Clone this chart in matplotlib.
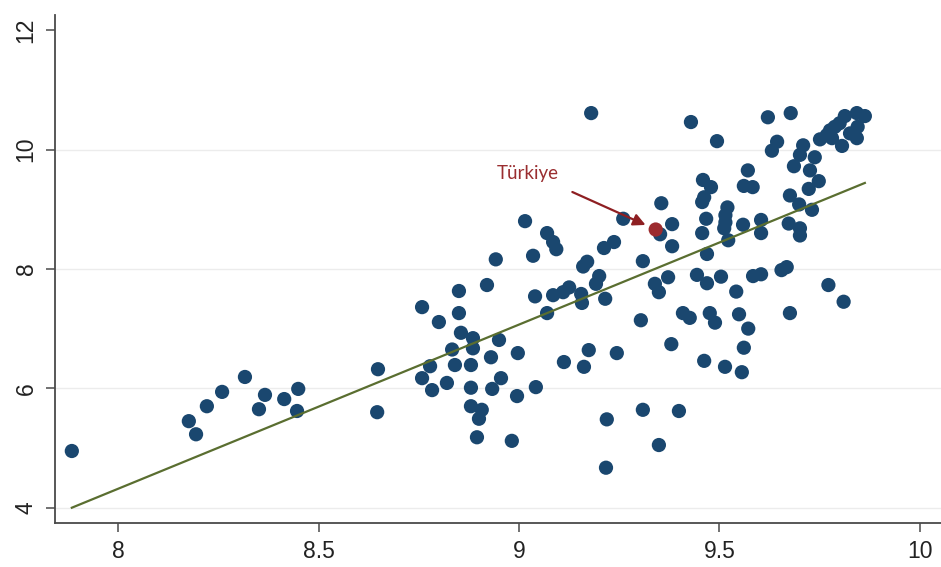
import matplotlib
matplotlib.use("Agg")
import matplotlib.pyplot as plt
import numpy as np

# log income per capita (x) against outcome (y), one dot per country
gdp = [7.884, 8.176, 8.194, 8.221, 8.259, 8.316, 8.366, 8.351, 8.414, 8.449, 8.446,
       8.648, 8.646, 8.758, 8.800, 8.850, 8.850, 8.855, 8.833, 8.885, 8.885,
       8.920, 8.942, 8.950, 8.930, 8.840, 8.778, 8.758, 8.783, 8.820, 8.880,
       8.880, 8.933, 8.955, 8.880, 8.907, 8.900, 8.895, 8.982, 8.995, 8.997,
       9.042, 9.035, 9.040, 9.070, 9.085, 9.110, 9.125, 9.155, 9.157, 9.160,
       9.170, 9.200, 9.192, 9.215, 9.112, 9.162, 9.174, 9.219, 9.217, 9.244,
       9.015, 9.070, 9.085, 9.093, 9.180, 9.429, 9.494, 9.459, 9.479, 9.462,
       9.457, 9.355, 9.260, 9.352, 9.382, 9.467, 9.457, 9.382, 9.212, 9.237,
       9.309, 9.469, 9.339, 9.349, 9.372, 9.444, 9.469, 9.504, 9.542, 9.584,
       9.604, 9.655, 9.668, 9.772, 9.810, 9.304, 9.409, 9.426, 9.476, 9.489,
       9.549, 9.572, 9.676, 9.380, 9.462, 9.561, 9.514, 9.556, 9.309, 9.399,
       9.349, 9.621, 9.678, 9.644, 9.631, 9.709, 9.701, 9.686, 9.738, 9.726,
       9.571, 9.561, 9.583, 9.676, 9.699, 9.731, 9.748, 9.723, 9.520, 9.515,
       9.515, 9.512, 9.522, 9.559, 9.604, 9.604, 9.673, 9.701, 9.701, 9.751,
       9.768, 9.776, 9.788, 9.800, 9.813, 9.843, 9.863, 9.845, 9.843, 9.826,
       9.806, 9.781]
score = [4.95, 5.45, 5.23, 5.70, 5.94, 6.19, 5.89, 5.65, 5.82, 5.99, 5.62,
         6.32, 5.60, 7.36, 7.11, 7.63, 7.26, 6.93, 6.65, 6.84, 6.67,
         7.73, 8.16, 6.81, 6.52, 6.39, 6.37, 6.17, 5.97, 6.09, 6.39,
         6.01, 5.99, 6.17, 5.70, 5.64, 5.49, 5.18, 5.12, 5.87, 6.59,
         6.02, 8.22, 7.54, 7.26, 7.56, 7.61, 7.69, 7.58, 7.43, 8.04,
         8.12, 7.88, 7.75, 7.50, 6.44, 6.36, 6.64, 5.48, 4.67, 6.59,
         8.80, 8.60, 8.45, 8.33, 10.61, 10.46, 10.14, 9.49, 9.37, 9.20,
         9.12, 9.10, 8.84, 8.58, 8.75, 8.84, 8.60, 8.38, 8.35, 8.45,
         8.13, 8.25, 7.75, 7.61, 7.86, 7.90, 7.76, 7.87, 7.62, 7.88,
         7.91, 7.98, 8.03, 7.73, 7.45, 7.14, 7.26, 7.18, 7.26, 7.10,
         7.24, 7.00, 7.26, 6.74, 6.46, 6.68, 6.36, 6.27, 5.64, 5.62,
         5.05, 10.54, 10.61, 10.13, 9.98, 10.07, 9.91, 9.72, 9.87, 9.65,
         9.65, 9.39, 9.37, 9.23, 9.08, 8.99, 9.47, 9.34, 9.03, 8.90,
         8.78, 8.68, 8.48, 8.74, 8.82, 8.60, 8.76, 8.68, 8.56, 10.17,
         10.24, 10.32, 10.38, 10.44, 10.56, 10.61, 10.56, 10.38, 10.19, 10.27,
         10.06, 10.19]

# highlighted country
tr_label = "Türkiye"
tr_x = 9.341
tr_y = 8.66

# linear fit, drawn over the range of the data
fit_x = [7.884, 9.863]
fit_y = [4.00, 9.44]

xticks = [8, 8.5, 9, 9.5, 10]
xtick_labels = ["8", "8.5", "9", "9.5", "10"]
yticks = [4, 6, 8, 10, 12]
ytick_labels = ["4", "6", "8", "10", "12"]

plt.rcParams['font.family'] = ['Liberation Sans', 'DejaVu Sans']

W, H = 941, 567
fig = plt.figure(figsize=(W / 100, H / 100), dpi=100)
ax = fig.add_axes([55 / W, 44 / H, 886 / W, 508 / H])

for v in yticks[:-1]:
    ax.axhline(v, color='#ececec', lw=1.0, zorder=0)

ax.scatter(gdp, score, s=105, color='#1a476f', edgecolors='none', zorder=2)
ax.plot(fit_x, fit_y, color='#5a6e30', lw=1.6, zorder=3)
ax.scatter([tr_x], [tr_y], s=105, color='#9c2b2e', edgecolors='none', zorder=4)

ax.annotate('', xy=(tr_x, tr_y), xytext=(-60, 27), textcoords='offset points',
            arrowprops=dict(arrowstyle='-|>', color='#8e1f22', lw=1.6,
                            mutation_scale=18, shrinkA=0, shrinkB=8),
            zorder=5)
ax.annotate(tr_label, xy=(tr_x, tr_y), xytext=(-92, 40), textcoords='offset points',
            ha='center', va='center', color='#9a2e30', fontsize=13.5,
            family=['Lato', 'DejaVu Sans'])

ax.set_xlim(7.842, 10.053)
ax.set_ylim(3.744, 12.253)
ax.set_xticks(xticks)
ax.set_xticklabels(xtick_labels)
ax.set_yticks(yticks)
ax.set_yticklabels(ytick_labels, rotation=90, va='center')

for side in ['top', 'right']:
    ax.spines[side].set_visible(False)
for side in ['left', 'bottom']:
    ax.spines[side].set_color('#4a4a4a')
    ax.spines[side].set_linewidth(1.3)

ax.tick_params(axis='both', direction='out', length=6.5, width=1.1,
               color='#4a4a4a', labelsize=16.5, labelcolor='#222222')
ax.tick_params(axis='x', pad=6)
ax.tick_params(axis='y', pad=6)

fig.savefig('out.png', dpi=100, facecolor='white')
